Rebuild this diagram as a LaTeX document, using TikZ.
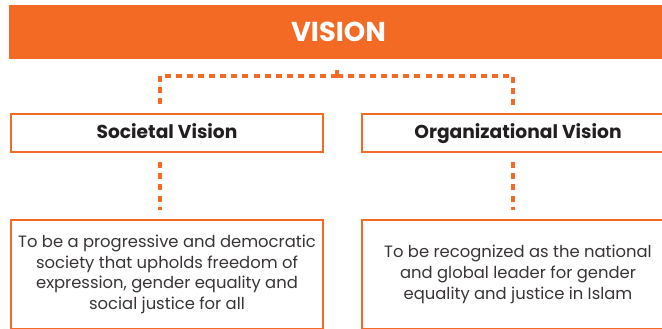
\documentclass[tikz,border=0pt]{standalone}
\usepackage{fontspec}
\setmainfont{Poppins}
\usepackage{xcolor}
\usepackage{tikz}
\usetikzlibrary{positioning}
\definecolor{brand}{HTML}{F26A24}
\definecolor{ink}{HTML}{231F20}

\begin{document}
\begin{tikzpicture}[
    x=0.75pt, y=-0.75pt,
    banner/.style={fill=brand, minimum width=494pt, minimum height=40.5pt, inner sep=0pt, font=\bfseries\fontsize{20.5}{24}\selectfont, text=white},
    head/.style={draw=brand, line width=1.5pt, fill=white, minimum width=234pt, minimum height=28.5pt, inner sep=0pt, text height=10pt, text depth=2pt, font=\bfseries\fontsize{14}{16}\selectfont, text=ink},
    body/.style={draw=brand, line width=1.5pt, fill=white, minimum width=234pt, minimum height=81.5pt, inner sep=0pt, align=center, font=\fontsize{12.3}{15.5}\selectfont, text=ink!90},
    link/.style={draw=brand, line width=3pt, dash pattern=on 4.5pt off 3.8pt}
]
    \useasboundingbox (0,0) rectangle (662,329);
    \clip (0,0) rectangle (662,329);

    \node[banner] (vis) at (338.5,32) {VISION};
    \node[head] (soc) at (167,133) {Societal Vision};
    \node[head, right=27.75pt of soc] (org) {Organizational Vision};
    \node[body, below=49.5pt of soc] (socd) {To be a progressive and democratic\\society that upholds freedom of\\expression, gender equality and\\social justice for all};
    \node[body, below=49.5pt of org] (orgd) {To be recognized as the national\\and global leader for gender\\equality and justice in Islam};

    % fork under the banner
    \coordinate (fork) at (337,76);
    \coordinate (lc) at (160,76);
    \coordinate (rc) at (513,76);
    \draw[link] (fork) -- ++(0,-9);
    \draw[link, shorten >=3pt] (fork) -- (lc) -- (lc |- soc.north);
    \draw[link, shorten >=3pt] (fork) -- (rc) -- (rc |- org.north);

    \draw[link, shorten <=7pt, shorten >=7pt] (lc |- soc.south) -- (lc |- socd.north);
    \draw[link, shorten <=7pt, shorten >=7pt] (rc |- org.south) -- (rc |- orgd.north);
\end{tikzpicture}
\end{document}
